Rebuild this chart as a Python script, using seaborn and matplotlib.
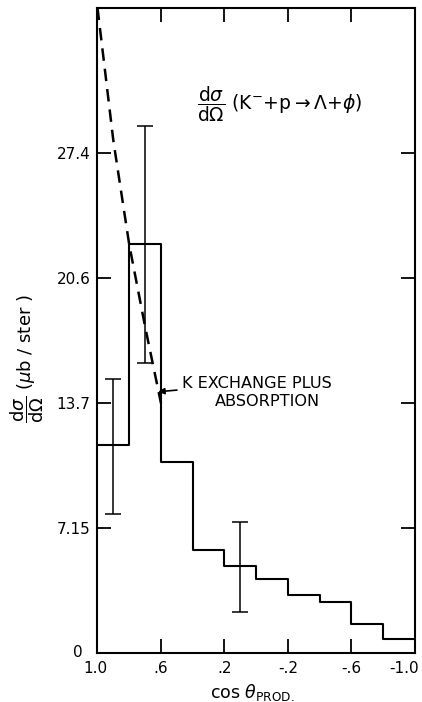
import numpy as np
import pandas as pd
import seaborn as sns
import matplotlib
matplotlib.use("Agg")
import matplotlib.pyplot as plt
from matplotlib.transforms import ScaledTranslation

# Angular distribution of K- + p -> Lambda + phi, bins of width 0.2 in cos(theta)
bin_edges = [1.0, 0.8, 0.6, 0.4, 0.2, 0.0, -0.2, -0.4, -0.6, -0.8, -1.0]
bin_centers = [0.9, 0.7, 0.5, 0.3, 0.1, -0.1, -0.3, -0.5, -0.7, -0.9]
cross_section = [11.4, 22.45, 10.5, 5.65, 4.77, 4.04, 3.18, 2.82, 1.59, 0.75]

# Representative statistical errors
err_x = [0.9, 0.7, 0.1]
err_y = [11.35, 22.4, 4.72]
err_size = [3.7, 6.5, 2.45]

# K exchange plus absorption model curve
model_x = [1.0, 0.9, 0.8, 0.7, 0.6]
model_y = [35.4, 28.1, 22.4, 17.9, 13.7]

x_ticks = [1.0, 0.6, 0.2, -0.2, -0.6, -1.0]
x_tick_labels = ["1.0", ".6", ".2", "-.2", "-.6", "-1.0"]
y_ticks = [0, 6.85, 13.7, 20.55, 27.4]
y_tick_labels = ["0", "7.15", "13.7", "20.6", "27.4"]

sns.set_theme(style="ticks")
plt.rcParams["font.family"] = ["DejaVu Sans"]
plt.rcParams["mathtext.fontset"] = "dejavusans"

fig = plt.figure(figsize=(4.22, 7.02), dpi=100)
ax = fig.add_axes([0.231, 0.0698, 0.7524, 0.9188])

df = pd.DataFrame({"cos": bin_centers, "dsdo": cross_section})
sns.histplot(data=df, x="cos", weights="dsdo", bins=sorted(bin_edges),
             element="step", fill=False, color="black", linewidth=1.5, ax=ax)

ax.errorbar(err_x, err_y, yerr=err_size, fmt="none", ecolor="black",
            elinewidth=1.1, capsize=5.5, capthick=1.1)

sns.lineplot(x=model_x, y=model_y, color="black", linestyle=(0, (5, 3.2)),
             linewidth=1.8, ax=ax, sort=False)

ax.set_xlim(1.0, -1.0)
ax.set_ylim(0, 35.38)
ax.set_xticks(x_ticks)
ax.set_xticklabels(x_tick_labels)
ax.set_yticks(y_ticks)
ax.set_yticklabels(y_tick_labels)
ax.tick_params(direction="in", length=10, width=1.3, colors="black",
               labelsize=11, top=True, right=True)
ax.tick_params(axis="y", pad=5)
ax.tick_params(axis="x", pad=6)
ax.set_xlabel("")
ax.set_ylabel("")
for s in ax.spines.values():
    s.set_visible(True)
    s.set_linewidth(1.5)
    s.set_color("black")

# Nudge the corner labels apart so "0" and "1.0" do not collide
ylabels = ax.get_yticklabels()
ylabels[0].set_transform(ylabels[0].get_transform()
                         + ScaledTranslation(-0.08, 0.02, fig.dpi_scale_trans))
xlabels = ax.get_xticklabels()
xlabels[0].set_transform(xlabels[0].get_transform()
                         + ScaledTranslation(-0.02, 0, fig.dpi_scale_trans))
xlabels[-1].set_transform(xlabels[-1].get_transform()
                          + ScaledTranslation(-0.11, 0, fig.dpi_scale_trans))

ax.text(0.374, 30.1,
        r"$\dfrac{\mathrm{d}\sigma}{\mathrm{d}\Omega}$ (K$^{-}$+p$\rightarrow\Lambda$+$\phi$)",
        ha="left", va="center", fontsize=13.5, color="black")

ax.annotate("K EXCHANGE PLUS", xy=(0.618, 14.33), xytext=(0.47, 14.81),
            ha="left", va="center", fontsize=11.6, color="black",
            arrowprops=dict(arrowstyle="-|>", color="black", lw=1.2,
                            mutation_scale=9, shrinkA=1, shrinkB=0))
ax.text(-0.072, 13.78, "ABSORPTION", ha="center", va="center",
        fontsize=11.6, color="black")

fig.text(0.597, 0.0142, r"cos $\theta_{\mathrm{PROD.}}$", ha="center",
         va="center", fontsize=12.5, color="black")
fig.text(0.064, 0.489,
         r"$\dfrac{\mathrm{d}\sigma}{\mathrm{d}\Omega}$ ($\mu$b / ster )",
         rotation=90, ha="center", va="center", fontsize=13, color="black")

fig.savefig("out.png", dpi=100, facecolor="white")
